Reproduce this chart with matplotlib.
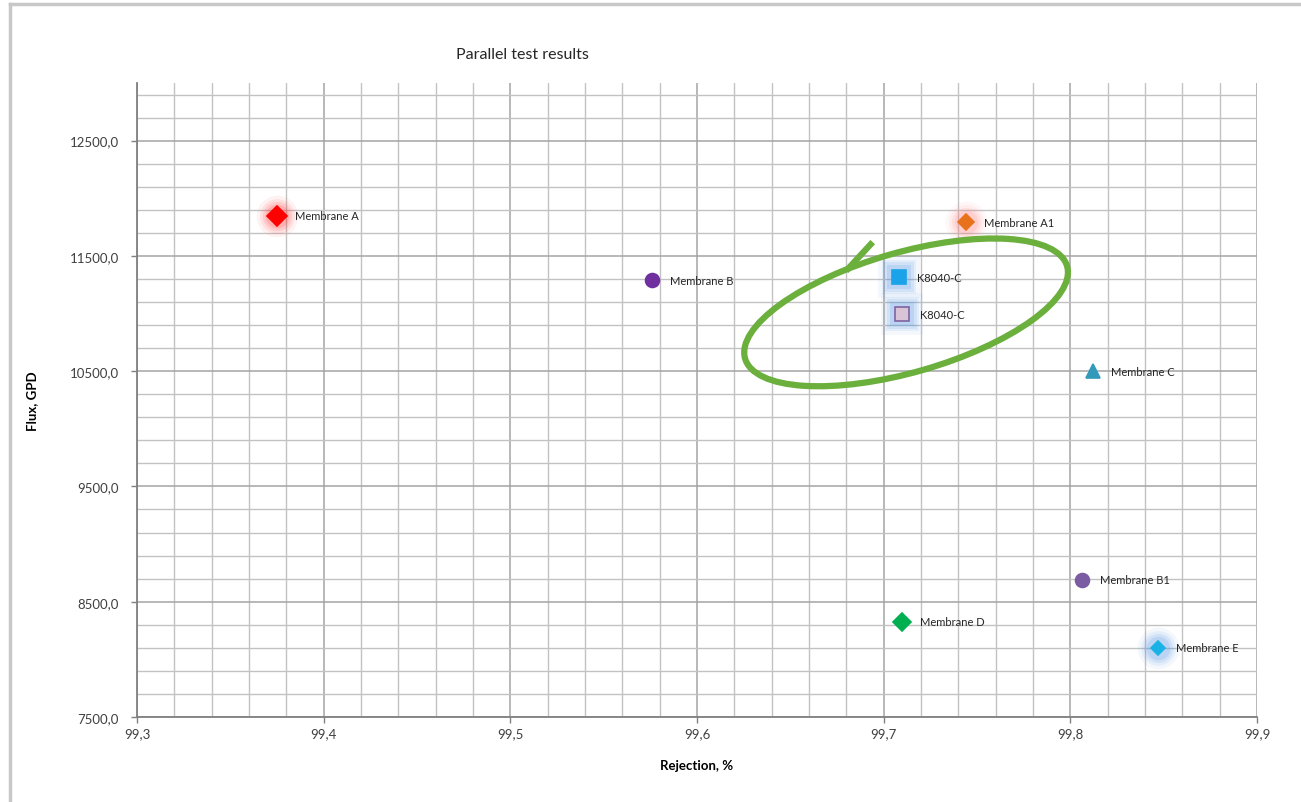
import matplotlib
matplotlib.use('Agg')
import matplotlib.pyplot as plt
from matplotlib.ticker import MultipleLocator, FuncFormatter
from matplotlib.patches import Ellipse
from matplotlib.lines import Line2D
from matplotlib.transforms import IdentityTransform

plt.rcParams['font.family'] = ['Lato', 'DejaVu Sans']

# --- data ---
names = ['Membrane A', 'Membrane A1', 'Membrane B', 'K8040-C', 'K8040-C',
         'Membrane C', 'Membrane B1', 'Membrane D', 'Membrane E']
rejection = [99.375, 99.744, 99.576, 99.708, 99.710, 99.812, 99.806, 99.710, 99.847]
flux = [11850, 11790, 11290, 11315, 10995, 10500, 8690, 8325, 8100]

markers = ['D', 'D', 'o', 's', 's', '^', 'o', 'D', 'D']
sizes = [10, 8.5, 10, 10, 10, 10, 10, 9, 7]
face_colors = ['#FF0000', '#E8711C', '#7030A0', '#1AA3E8', '#D9C3D6',
               '#3399BB', '#7B5BA1', '#00B050', '#19B2E6']
edge_colors = ['#FF0000', '#E8711C', '#7030A0', '#1AA3E8', '#8064A2',
               '#3399BB', '#7B5BA1', '#00B050', '#19B2E6']
# soft glow behind some points (None = no glow)
glow_colors = ['#FF3030', '#FF8080', None, '#4A90E2', '#4A90E2',
               None, None, None, '#4A90E2']
glow_markers = ['o', 'o', None, 's', 's', None, None, None, 'o']

fig = plt.figure(figsize=(13.01, 8.03), dpi=100)
ax = fig.add_axes([0.1053, 0.1059, 0.8609, 0.7895])

ax.set_xlim(99.3, 99.9)
ax.set_ylim(7500, 13000)

# grid: major every 0.1 / 1000, minor every 0.02 / 200
ax.xaxis.set_major_locator(MultipleLocator(0.1))
ax.xaxis.set_minor_locator(MultipleLocator(0.02))
ax.set_yticks(range(7500, 13000, 1000))
ax.set_yticks(range(7500, 13001, 200), minor=True)
ax.grid(True, which='major', color='#A4A4A4', linewidth=1.1)
ax.grid(True, which='minor', color='#C2C2C2', linewidth=1.0)
ax.set_axisbelow(True)

ax.xaxis.set_major_formatter(FuncFormatter(lambda v, p: f'{v:.1f}'.replace('.', ',')))
ax.yaxis.set_major_formatter(FuncFormatter(lambda v, p: f'{v:.1f}'.replace('.', ',')))
ax.tick_params(axis='both', which='major', labelsize=9.5, length=4, width=1,
               color='#808080', labelcolor='#404040')
ax.tick_params(axis='both', which='minor', length=0)
ax.tick_params(axis='x', pad=3)
ax.tick_params(axis='y', pad=9)

for side in ['top', 'right']:
    ax.spines[side].set_visible(False)
for side in ['left', 'bottom']:
    ax.spines[side].set_color('#808080')
    ax.spines[side].set_linewidth(1.3)

# glow layers
for x, y, gc, gm in zip(rejection, flux, glow_colors, glow_markers):
    if gc is None:
        continue
    for ms, a in [(30, 0.06), (25, 0.09), (21, 0.12), (17, 0.16)]:
        ax.plot(x, y, marker=gm, markersize=ms, color=gc, alpha=a,
                markeredgewidth=0, linestyle='none', zorder=3)

# points and labels
for x, y, name, m, s, fc, ec in zip(rejection, flux, names, markers, sizes,
                                     face_colors, edge_colors):
    ax.plot(x, y, marker=m, markersize=s, markerfacecolor=fc,
            markeredgecolor=ec, markeredgewidth=1.2, linestyle='none', zorder=4)
    ax.annotate(name, (x, y), xytext=(13, 0), textcoords='offset points',
                va='center', ha='left', fontsize=8, color='#262626', zorder=5)

fig.text(522 / 1301, 1 - 55 / 803, 'Parallel test results', fontsize=11.5,
         color='#262626', ha='center', va='center')
fig.text(697 / 1301, 1 - 766 / 803, 'Rejection, %', fontsize=9.5,
         fontweight='bold', ha='center', va='center')
fig.text(32 / 1301, 1 - 401 / 803, 'Flux, GPD', fontsize=9.5, fontweight='bold',
         rotation=90, ha='center', va='center')

# hand-drawn green loop around the two K8040-C points
fig.canvas.draw()
cx, cy = ax.transData.transform((99.712, 11010))
loop = Ellipse((cx, cy), width=335, height=120, angle=16, fill=False,
               edgecolor='#6BAF3C', linewidth=4.5, transform=IdentityTransform(),
               zorder=6)
ax.add_artist(loop)
sx0, sy0 = ax.transData.transform((99.693, 11600))
sx1, sy1 = ax.transData.transform((99.681, 11390))
ax.add_artist(Line2D([sx0, sx1], [sy0, sy1], color='#6BAF3C', linewidth=4.5,
                     transform=IdentityTransform(), zorder=6))

# light frame of the chart area (left and top edges)
fig.add_artist(Line2D([10 / 1301, 10 / 1301], [0, 1 - 5 / 803], color='#C8C8C8',
                      linewidth=2.5, transform=fig.transFigure))
fig.add_artist(Line2D([10 / 1301, 1], [1 - 5 / 803, 1 - 5 / 803], color='#C8C8C8',
                      linewidth=2.5, transform=fig.transFigure))

fig.savefig('out.png', dpi=100)
